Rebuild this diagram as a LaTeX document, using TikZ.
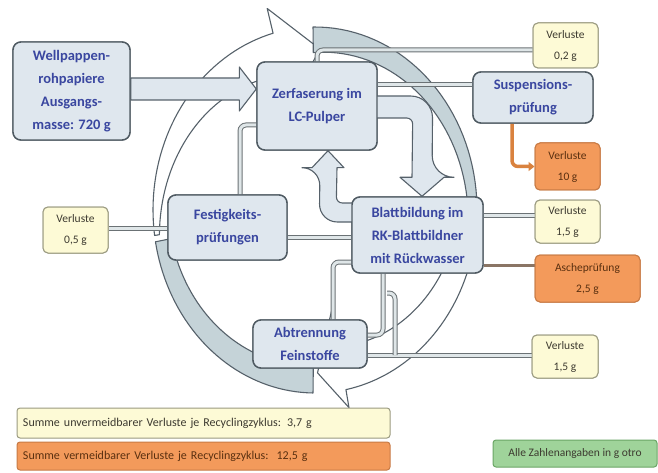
\documentclass[tikz,border=0pt]{standalone}
\usepackage{fontspec}
\setmainfont{Carlito}
\usetikzlibrary{calc,arrows.meta}
\definecolor{boxfill}{HTML}{DFE7EE}
\definecolor{boxdraw}{HTML}{4F5A62}
\definecolor{textblue}{HTML}{3A47A0}
\definecolor{yfill}{HTML}{FDFAD6}
\definecolor{ydraw}{HTML}{9A9A80}
\definecolor{ofill}{HTML}{F39A5B}
\definecolor{odraw}{HTML}{C77A45}
\definecolor{gfill}{HTML}{9FD39A}
\definecolor{gdraw}{HTML}{6AA565}
\definecolor{ringfill}{HTML}{C5D3D8}
\definecolor{ringdraw}{HTML}{56616A}
\definecolor{dlout}{HTML}{6B7275}
\definecolor{dlin}{HTML}{DFE6E8}
\definecolor{smalltext}{HTML}{3D3A30}
\definecolor{otext}{HTML}{5A3010}
\definecolor{oline}{HTML}{D9823F}
\definecolor{bline}{HTML}{8A7565}
\begin{document}
\begin{tikzpicture}[x=1pt,y=-1pt,
  mainbox/.style={draw=boxdraw, fill=boxfill, line width=1.4pt, rounded corners=8pt,
    align=center, text=textblue, inner sep=2pt, font=\fontsize{14.5}{23}\selectfont\bfseries},
  ybox/.style={draw=ydraw, fill=yfill, line width=1pt, rounded corners=5pt,
    align=center, text=smalltext, inner sep=2pt, font=\fontsize{11.5}{21}\selectfont},
  obox/.style={draw=odraw, fill=ofill, line width=1pt, rounded corners=5pt,
    align=center, text=otext, inner sep=2pt, font=\fontsize{11.5}{21}\selectfont},
  sumbar/.style={line width=1pt, rounded corners=3pt, align=left, inner xsep=6pt,
    text width=361pt, minimum height=28pt, font=\fontsize{12}{14}\selectfont},
  gbox/.style={draw=gdraw, fill=gfill, line width=1pt, rounded corners=3pt,
    align=center, text=smalltext, font=\fontsize{11.5}{13}\selectfont},
  ringw/.style={fill=white, draw=ringdraw, line width=1.1pt, line join=round},
  ringg/.style={fill=ringfill, draw=ringdraw, line width=1.1pt, line join=round},
  barrow/.style={fill=boxfill, draw=ringdraw, line width=1.1pt, line join=round},
  dl/.style={draw=dlout, line width=1pt, double=dlin, double distance=3pt, rounded corners=6pt},
]
\useasboundingbox (0,0) rectangle (658,473);

% ---- circular arrows ----
% upper-left white arrow (head at top)
\draw[ringw] plot[domain=188:105, samples=40, variable=\t] ({315+162*cos(\t)}, {210-183*sin(\t)})
  -- ({315+1.14*162*cos(105)}, {210-1.14*183*sin(105)})
  -- ({315+0.88*162*cos(88)}, {210-0.88*183*sin(88)})
  -- ({315+0.60*162*cos(105)}, {210-0.60*183*sin(105)})
  -- plot[domain=105:188, samples=40, variable=\t]
     ({315+(0.76+0.21*(\t-105)/83)*162*cos(\t)}, {210-(0.76+0.21*(\t-105)/83)*183*sin(\t)})
  -- cycle;
% lower-right white arrow (head at bottom)
\draw[ringw] plot[domain=-8:-79, samples=40, variable=\t] ({315+162*cos(\t)}, {210-183*sin(\t)})
  -- ({315+1.10*162*cos(-79)}, {210-1.10*183*sin(-79)})
  -- ({315+0.89*162*cos(-89)}, {210-0.89*183*sin(-89)})
  -- ({315+0.55*162*cos(-79)}, {210-0.55*183*sin(-79)})
  -- plot[domain=-79:-8, samples=40, variable=\t]
     ({315+(0.76+0.12*(\t+79)/71)*162*cos(\t)}, {210-(0.76+0.12*(\t+79)/71)*183*sin(\t)})
  -- cycle;
% upper-right gray band
\draw[ringg] plot[domain=90.7:-6, samples=40, variable=\t] ({315+162*cos(\t)}, {210-183*sin(\t)})
  -- plot[domain=-6:90.7, samples=40, variable=\t]
     ({315+(0.95-0.09*(\t+6)/96.7)*162*cos(\t)}, {210-(0.95-0.09*(\t+6)/96.7)*183*sin(\t)})
  -- cycle;
% lower-left gray band
\draw[ringg] plot[domain=269.3:190, samples=40, variable=\t] ({315+162*cos(\t)}, {210-183*sin(\t)})
  -- plot[domain=190:269.3, samples=40, variable=\t]
     ({315+(0.90-0.05*(\t-190)/79.3)*162*cos(\t)}, {210-(0.90-0.05*(\t-190)/79.3)*183*sin(\t)})
  -- cycle;

% ---- nodes (placed first for anchors, drawn on top later) ----
\path
  node[mainbox, minimum width=117pt, minimum height=98pt] (well) at (71.5,91) {}
  node[mainbox, minimum width=120pt, minimum height=88pt] (zerf) at (317,106) {}
  node[mainbox, minimum width=120pt, minimum height=51pt] (susp) at (533,97.5) {}
  node[mainbox, minimum width=131pt, minimum height=76pt] (blatt) at (417.5,235) {}
  node[mainbox, minimum width=119pt, minimum height=65pt] (fest) at (227.5,227.5) {}
  node[mainbox, minimum width=114pt, minimum height=48pt] (abtr) at (310,344) {}
  node[ybox, minimum width=65pt, minimum height=45pt] (v02) at (565.5,45.5) {}
  node[obox, minimum width=65pt, minimum height=47pt] (v10) at (567.5,166.5) {}
  node[ybox, minimum width=65pt, minimum height=43pt] (v15a) at (567.5,221.5) {}
  node[obox, minimum width=105pt, minimum height=47pt] (asche) at (587.5,278.5) {}
  node[ybox, minimum width=66pt, minimum height=43pt] (v15b) at (565,356.5) {}
  node[ybox, minimum width=65pt, minimum height=46pt] (v05) at (75.5,230) {};

% ---- block arrows ----
\draw[barrow] ($(well.east)+(0,-13)$) -- ($(zerf.west)+(-17,-28)$) -- ($(zerf.west)+(-17,-39)$)
  -- ($(zerf.west)+(0,-17)$) -- ($(zerf.west)+(-17,5)$) -- ($(zerf.west)+(-17,-6)$)
  -- ($(well.east)+(0,9)$) -- cycle;
\draw[barrow] ($(zerf.east)+(-4,-10)$) [rounded corners=22pt] -- ($(zerf.east)+(55,-10)$)
  -- ($(blatt.north)+(14.5,-19)$) [sharp corners] -- ($(blatt.north)+(26.5,-19)$)
  -- ($(blatt.north)+(4.5,0)$) -- ($(blatt.north)+(-17.5,-19)$) -- ($(blatt.north)+(-5.5,-19)$)
  [rounded corners=6pt] -- ($(zerf.east)+(35,12)$) [sharp corners] -- ($(zerf.east)+(-4,12)$) -- cycle;
\draw[barrow] ($(blatt.west)+(4,-13)$) [rounded corners=18pt] -- ($(blatt.west)+(-32,-13)$)
  -- ($(zerf.south)+(3,17)$) [sharp corners] -- ($(zerf.south)+(-5,17)$) -- ($(zerf.south)+(11,0)$)
  -- ($(zerf.south)+(27,17)$) -- ($(zerf.south)+(20,17)$) [rounded corners=6pt]
  -- ($(blatt.west)+(-15,-32)$) [sharp corners] -- ($(blatt.west)+(4,-32)$) -- cycle;

% ---- line connectors ----
\draw[dl] (zerf.north) |- ($(v02.west)+(0,4.5)$);
\draw[dl] ($(zerf.east)+(0,-21)$) coordinate (zs) -- (zs -| susp.west);
\draw[dl] ($(fest.north)+(12.5,0)$) |- ($(zerf.west)+(0,19)$);
\draw[dl] ($(fest.east)+(0,9.5)$) coordinate (fb) -- (fb -| blatt.west);
\draw[dl] ($(v05.east)+(0,-2)$) coordinate (vf) -- (vf -| fest.west);
\draw[dl] ($(blatt.east)+(0,-20)$) coordinate (bv) -- (bv -| v15a.west);
\draw[draw=bline, line width=3pt] ($(blatt.east)+(0,30)$) coordinate (ba) -- (ba -| asche.west);
\draw[dl] ($(abtr.east)+(0,11)$) coordinate (av) -- (av -| v15b.west);
\draw[dl] ($(abtr.north)+(23,0)$) |- ($(blatt.west)+(0,27)$);
\draw[dl] ($(blatt.south)+(-34.5,0)$) |- ($(abtr.east)+(0,-9)$);
\coordinate (stubtop) at (387,293);
\draw[dl] (stubtop) -- ++(8,0) coordinate (stubc) -- (stubc |- av);
\draw[draw=oline, line width=3.5pt, rounded corners=6pt, -{Triangle[length=6pt,width=9pt]}]
  ($(susp.south)+(-21,0)$) |- (v10.west);

% ---- boxes with text ----
\node[mainbox, minimum width=117pt, minimum height=98pt] at (well) {Wellpappen-\\rohpapiere\\Ausgangs-\\masse: 720 g};
\node[mainbox, minimum width=120pt, minimum height=88pt] at (zerf) {Zerfaserung im\\LC-Pulper};
\node[mainbox, minimum width=120pt, minimum height=51pt] at (susp) {Suspensions-\\prüfung};
\node[mainbox, minimum width=131pt, minimum height=76pt] at (blatt) {Blattbildung im\\RK-Blattbildner\\mit Rückwasser};
\node[mainbox, minimum width=119pt, minimum height=65pt] at (fest) {Festigkeits-\\prüfungen};
\node[mainbox, minimum width=114pt, minimum height=48pt] at (abtr) {Abtrennung\\Feinstoffe};
\node[ybox, minimum width=65pt, minimum height=45pt] at (v02) {Verluste\\0,2 g};
\node[obox, minimum width=65pt, minimum height=47pt] at (v10) {Verluste\\10 g};
\node[ybox, minimum width=65pt, minimum height=43pt] at (v15a) {Verluste\\1,5 g};
\node[obox, minimum width=105pt, minimum height=47pt] at (asche) {Ascheprüfung\\2,5 g};
\node[ybox, minimum width=66pt, minimum height=43pt] at (v15b) {Verluste\\1,5 g};
\node[ybox, minimum width=65pt, minimum height=46pt] at (v05) {Verluste\\0,5 g};

\node[sumbar, draw=ydraw, fill=yfill, text=smalltext, minimum height=30pt] (sum1) at (203.5,423)
  {Summe unvermeidbarer Verluste je Recyclingzyklus: 3,7 g};
\node[sumbar, draw=odraw, fill=ofill, text=otext] (sum2) at (203.5,456)
  {Summe vermeidbarer Verluste je Recyclingzyklus:\ \ 12,5 g};
\node[gbox, minimum width=164pt, minimum height=27pt] (note) at (575,453.5) {Alle Zahlenangaben in g otro};
\end{tikzpicture}
\end{document}
